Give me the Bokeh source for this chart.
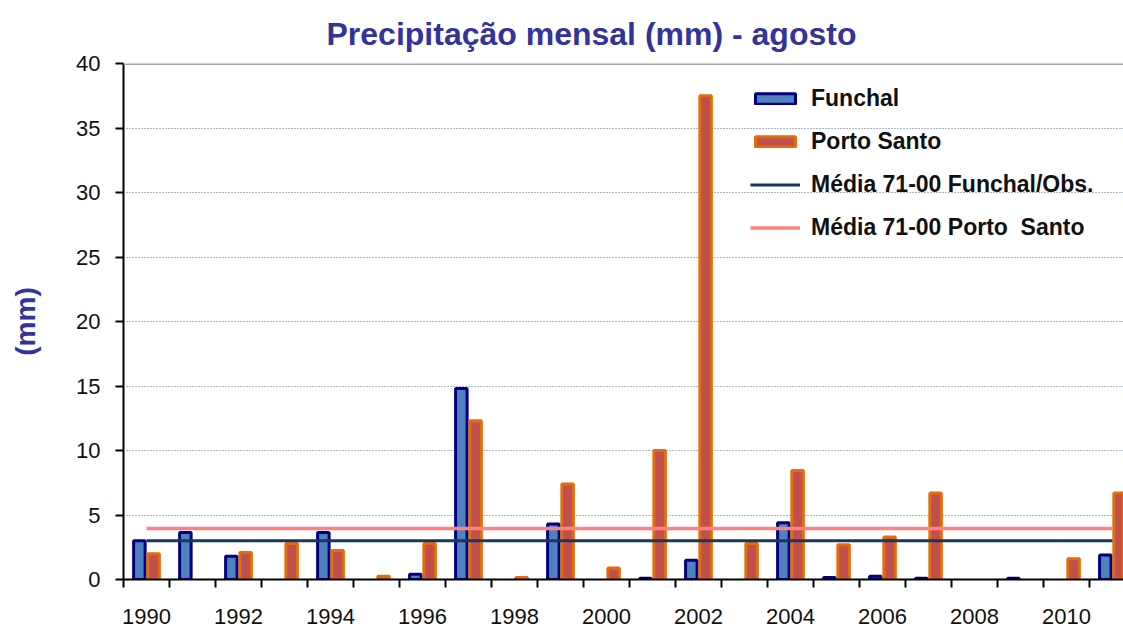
from bokeh.plotting import figure
from bokeh.models import (ColumnDataSource, Range1d, FixedTicker, Legend, LegendItem, Span)
from bokeh.transform import dodge
from bokeh.embed import file_html
from bokeh.resources import INLINE

nan = float("nan")

years = list(range(1990, 2012))
funchal = [3.0, 3.65, 1.8, nan, 3.65, nan, 0.4, 14.8, nan, 4.3, nan, 0.1,
           1.5, nan, 4.4, 0.15, 0.25, 0.1, nan, 0.1, nan, 1.9]
porto_santo = [2.0, nan, 2.1, 2.8, 2.25, 0.25, 2.8, 12.3, 0.15, 7.4, 0.9, 10.0,
               37.5, 2.8, 8.45, 2.7, 3.3, 6.7, nan, nan, 1.6, 6.7]
media_funchal = 3.0
media_porto_santo = 3.95

label_years = list(range(1990, 2011, 2))
y_ticks = [0, 5, 10, 15, 20, 25, 30, 35, 40]

title_text = "Precipitação mensal (mm) - agosto"
y_label = "(mm)"
names = ["Funchal", "Porto Santo", "Média 71-00 Funchal/Obs.", "Média 71-00 Porto  Santo"]

FONT = "Liberation Sans"

src = ColumnDataSource(dict(year=years, funchal=funchal, porto=porto_santo))

p = figure(width=1123, height=628, output_backend="svg", toolbar_location=None,
           x_range=Range1d(1989.5, 2011.24), y_range=Range1d(0, 40),
           min_border_left=123, min_border_right=0, min_border_top=63,
           min_border_bottom=49)
p.outline_line_color = None
p.background_fill_color = "white"
p.border_fill_color = "white"

# title
p.title.text = title_text
p.title.text_font = FONT
p.title.text_font_size = "32px"
p.title.text_font_style = "bold"
p.title.text_color = "#333399"
p.title.align = "left"
p.title.offset = 203
p.title.standoff = 24

r_f = p.vbar(x=dodge("year", -0.155, range=p.x_range), top="funchal", width=0.25,
             source=src, fill_color="#4F81BD", line_color="#000080", line_width=3)
r_p = p.vbar(x=dodge("year", 0.155, range=p.x_range), top="porto", width=0.25,
             source=src, fill_color="#C0504D", line_color="#E46C0A", line_width=3)

r_mf = p.line(x=[years[0], years[-1]], y=[media_funchal, media_funchal],
              line_color="#17375E", line_width=3)
r_mp = p.line(x=[years[0], years[-1]], y=[media_porto_santo, media_porto_santo],
              line_color="#FF8080", line_width=3.5)

p.add_layout(Span(location=40, dimension="width", line_color="#A6A6A6", line_width=3))

# grid
p.xgrid.visible = False
p.ygrid.ticker = FixedTicker(ticks=[5, 10, 15, 20, 25, 30, 35])
p.ygrid.grid_line_color = "#4F6FB0"
p.ygrid.grid_line_dash = "1 2"
p.ygrid.grid_line_width = 1

# x axis
xa = p.xaxis[0]
xa.ticker = FixedTicker(ticks=label_years, minor_ticks=[y - 0.5 for y in years] + [years[-1] + 0.5])
xa.major_tick_out = 0
xa.major_tick_in = 0
xa.minor_tick_out = 8
xa.minor_tick_in = 0
xa.minor_tick_line_color = "black"
xa.minor_tick_line_width = 2
xa.axis_line_color = "black"
xa.axis_line_width = 2
xa.major_label_text_font = FONT
xa.major_label_text_font_size = "22px"
xa.major_label_text_color = "#111111"
xa.major_label_standoff = 21

# y axis
ya = p.yaxis[0]
ya.ticker = FixedTicker(ticks=y_ticks, minor_ticks=[])
ya.major_tick_out = 8
ya.major_tick_in = 0
ya.major_tick_line_color = "black"
ya.major_tick_line_width = 2
ya.axis_line_color = "black"
ya.axis_line_width = 2
ya.major_label_text_font = FONT
ya.major_label_text_font_size = "22px"
ya.major_label_text_color = "#111111"
ya.major_label_standoff = 15
ya.axis_label = y_label
ya.axis_label_text_font = FONT
ya.axis_label_text_font_size = "28px"
ya.axis_label_text_font_style = "bold"
ya.axis_label_text_color = "#333399"
ya.axis_label_standoff = 32

legend = Legend(items=[LegendItem(label=names[0], renderers=[r_f]),
                       LegendItem(label=names[1], renderers=[r_p]),
                       LegendItem(label=names[2], renderers=[r_mf]),
                       LegendItem(label=names[3], renderers=[r_mp])],
                location=(627, 338))
legend.border_line_color = None
legend.background_fill_alpha = 0
legend.padding = 0
legend.margin = 0
legend.spacing = 16
legend.glyph_width = 50
legend.glyph_height = 13
legend.label_height = 25
legend.label_standoff = 11
legend.label_text_font = FONT
legend.label_text_font_size = "23px"
legend.label_text_font_style = "bold"
legend.label_text_color = "#111111"
p.add_layout(legend, "center")

open("out.html", "w").write(file_html(p, INLINE))
